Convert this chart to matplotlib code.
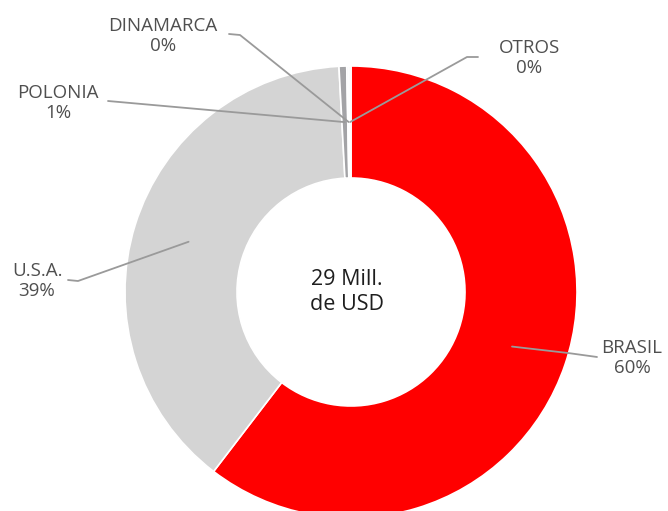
import numpy as np
import matplotlib.pyplot as plt

W, H = 668, 511

countries = ["BRASIL", "U.S.A.", "POLONIA", "DINAMARCA", "OTROS"]
shares = [60.4, 38.75, 0.55, 0.15, 0.15]
pct_labels = ["60%", "39%", "1%", "0%", "0%"]
colors = ["#ff0000", "#d4d4d4", "#a3a3a6", "#f3f3f6", "#f3f3f6"]
center_text = "29 Mill.\nde USD"

# layout (pixels, y measured from top)
cx, cy, R, r_in = 351, 292, 226, 114
label_pos = {
    "BRASIL": (632, 358),
    "U.S.A.": (37, 281),
    "POLONIA": (58, 103),
    "DINAMARCA": (163, 36),
    "OTROS": (529, 58),
}
leader_pts = {
    "BRASIL": [(597, 357), (568, 353)],
    "U.S.A.": [(68, 280), (78, 281)],
    "POLONIA": [(108, 101)],
    "DINAMARCA": [(229, 34), (240, 35)],
    "OTROS": [(478, 57), (467, 57)],
}

plt.rcParams["font.family"] = ["Open Sans", "DejaVu Sans"]

fig = plt.figure(figsize=(W / 100, H / 100), dpi=100)
ax = fig.add_axes([0, 0, 1, 1])

wedges, _ = ax.pie(shares, colors=colors, startangle=90, counterclock=False,
                   radius=R, center=(cx, H - cy),
                   wedgeprops=dict(width=R - r_in, edgecolor="white", linewidth=1.2))

r_mid = (R + r_in) / 2
for w, name, pct in zip(wedges, countries, pct_labels):
    ang = np.deg2rad((w.theta1 + w.theta2) / 2)
    px, py = cx + r_mid * np.cos(ang), (H - cy) + r_mid * np.sin(ang)
    xs = [p[0] for p in leader_pts[name]] + [px]
    ys = [H - p[1] for p in leader_pts[name]] + [py]
    ax.plot(xs, ys, color="#9a9a9a", lw=1.3, solid_capstyle="round", zorder=5)
    tx, ty = label_pos[name]
    ax.text(tx, H - ty, f"{name}\n{pct}", ha="center", va="center",
            fontsize=13.5, color="#4f4f4f", linespacing=1.18)

ax.text(cx - 4, H - 292, center_text, ha="center", va="center",
        fontsize=15.5, color="#1e1e1e", linespacing=1.25)

ax.set_xlim(0, W)
ax.set_ylim(0, H)
ax.set_aspect("equal")
ax.axis("off")

fig.savefig("out.png", dpi=100)
